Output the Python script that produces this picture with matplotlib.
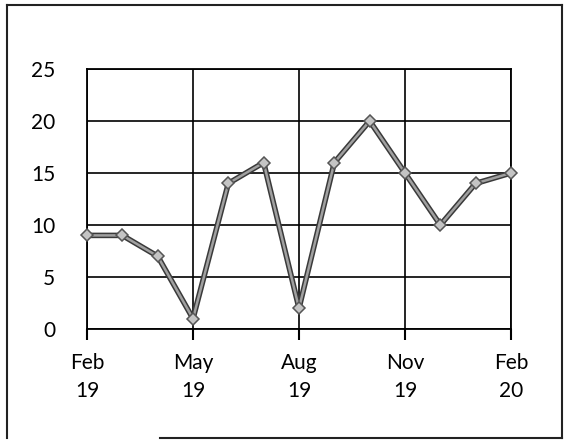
import matplotlib
matplotlib.use("Agg")
import matplotlib.pyplot as plt
import matplotlib.patheffects as pe
from matplotlib.lines import Line2D

# monthly values, Feb 2019 .. Feb 2020
months = ["Feb 19", "Mar 19", "Apr 19", "May 19", "Jun 19", "Jul 19", "Aug 19",
          "Sep 19", "Oct 19", "Nov 19", "Dec 19", "Jan 20", "Feb 20"]
values = [9, 9, 7, 1, 14, 16, 2, 16, 20, 15, 10, 14, 15]

tick_pos = [0, 3, 6, 9, 12]
tick_labels = ["Feb\n19", "May\n19", "Aug\n19", "Nov\n19", "Feb\n20"]
y_ticks = [0, 5, 10, 15, 20, 25]


def main():
    plt.rcParams["font.family"] = ["Lato", "DejaVu Sans"]

    fig = plt.figure(figsize=(5.64, 4.40), dpi=100)
    ax = fig.add_axes([87 / 564, 1 - 329 / 440, 424 / 564, 260 / 440])

    x = list(range(len(months)))
    ax.plot(x, values, color="#a0a0a0", lw=1.8, zorder=3,
            path_effects=[pe.Stroke(linewidth=4.0, foreground="#3a3a3a"), pe.Normal()])
    ax.plot(x, values, ls="none", marker="D", ms=6.5, mfc="#c4c4c4",
            mec="#555555", mew=1.1, zorder=4, clip_on=False)

    ax.set_xlim(0, 12)
    ax.set_ylim(0, 25)
    ax.set_xticks(tick_pos)
    ax.set_xticklabels(tick_labels, fontsize=15, linespacing=1.5)
    ax.set_yticks(y_ticks)
    ax.tick_params(axis="y", length=0, pad=23, labelsize=15)
    ax.tick_params(axis="x", direction="out", length=8, width=1.5, pad=9)

    ax.grid(True, color="black", lw=1.2)
    for s in ax.spines.values():
        s.set_color("black")
        s.set_linewidth(1.3)

    # outer frame of the chart box
    frame_kw = dict(color="#222222", lw=1.5, transform=fig.transFigure)
    fig.add_artist(Line2D([7 / 564, 7 / 564], [1 - 5 / 440, 1 - 438 / 440], **frame_kw))
    fig.add_artist(Line2D([7 / 564, 562 / 564], [1 - 5 / 440, 1 - 5 / 440], **frame_kw))
    fig.add_artist(Line2D([562 / 564, 562 / 564], [1 - 5 / 440, 1 - 438 / 440], **frame_kw))
    fig.add_artist(Line2D([160 / 564, 562 / 564], [1 - 438 / 440, 1 - 438 / 440], **frame_kw))

    fig.savefig("out.png", dpi=100)


if __name__ == "__main__":
    main()
